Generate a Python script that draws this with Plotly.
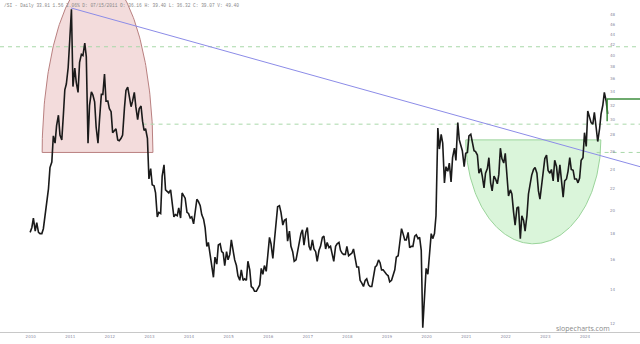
import numpy as np
import pandas as pd
import plotly.graph_objects as go

# ---- price data (semi-monthly closes: 1st and 15th) ----
p2010 = [18.1, 18.5, 19.3, 18.2, 18.9, 18.1, 18.0, 18.0, 18.4, 19.5, 20.7, 22.0, 24.2, 24.8, 27.9, 27.0, 29.2]  # from Apr 15
p2011 = [30.6, 28.0, 27.4, 30.5, 34.3, 35.2, 37.9, 42.7, 49.2, 34.8, 37.8, 35.4, 33.9, 38.8, 40.2, 40.0, 42.3, 39.8, 27.0, 32.0, 34.0, 33.5, 32.5, 29.0]
p2012 = [27.0, 30.0, 33.6, 33.6, 36.8, 32.6, 32.6, 31.5, 31.1, 28.3, 28.6, 28.8, 27.4, 27.3, 27.6, 28.0, 31.6, 34.2, 34.7, 33.5, 31.8, 32.6, 33.9, 31.8]
p2013 = [30.0, 31.5, 31.9, 29.8, 28.6, 28.8, 27.6, 23.0, 24.1, 22.4, 22.3, 21.6, 19.4, 19.8, 19.7, 23.3, 24.5, 21.9, 21.7, 21.6, 21.9, 20.6, 19.4, 19.6]
p2014 = [19.5, 20.2, 19.3, 21.6, 21.3, 21.1, 19.8, 19.7, 19.3, 19.4, 18.8, 19.7, 21.0, 20.8, 20.4, 19.6, 19.2, 18.5, 17.0, 17.3, 16.2, 15.6, 14.8, 16.2]
p2015 = [15.7, 17.1, 17.2, 16.6, 16.5, 15.6, 16.6, 16.0, 16.4, 17.5, 16.6, 16.0, 15.6, 14.9, 14.6, 15.3, 14.6, 14.7, 14.6, 15.9, 15.3, 14.2, 14.1, 13.9]
p2016 = [13.9, 14.1, 14.3, 15.4, 15.0, 15.6, 15.2, 16.3, 17.7, 17.2, 16.1, 17.4, 19.0, 20.3, 20.4, 19.8, 18.7, 19.1, 19.2, 17.4, 18.2, 17.0, 16.6, 15.9]
p2017 = [16.0, 16.7, 17.5, 18.0, 18.3, 17.1, 18.1, 18.5, 17.0, 16.7, 17.5, 16.8, 16.6, 15.9, 16.7, 17.0, 17.7, 17.8, 16.8, 17.3, 16.9, 17.0, 16.4, 15.9]
p2018 = [17.0, 17.2, 17.3, 16.7, 16.5, 16.4, 16.4, 17.0, 16.3, 16.4, 16.5, 16.8, 16.0, 15.5, 15.5, 14.6, 14.4, 14.2, 14.6, 14.7, 14.3, 14.2, 14.2, 14.7]
p2019 = [15.5, 15.6, 16.0, 15.8, 15.3, 15.3, 15.1, 15.0, 14.9, 14.5, 14.6, 15.0, 15.3, 16.2, 16.3, 17.2, 18.4, 18.0, 17.5, 17.5, 18.1, 16.9, 17.0, 17.0]
p2020 = [17.8, 17.9, 17.6, 17.7, 16.7, 11.8, 14.2, 15.4, 15.0, 16.6, 18.0, 17.6, 18.0, 19.5, 28.9, 26.3, 28.1, 27.0, 22.6, 24.3, 23.8, 24.7, 22.7, 25.3]
p2021 = [26.4, 25.0, 29.6, 27.4, 26.6, 26.1, 24.3, 25.8, 25.9, 27.9, 28.1, 27.3, 26.1, 26.0, 25.6, 23.6, 24.1, 23.3, 22.1, 23.6, 24.1, 25.3, 22.6, 21.8]
p2022 = [23.3, 23.0, 22.5, 23.5, 26.4, 25.2, 24.7, 25.8, 22.8, 21.3, 21.9, 21.5, 19.8, 18.7, 20.2, 20.3, 17.6, 19.5, 19.1, 18.2, 19.5, 21.5, 22.5, 23.4]
p2023 = [24.0, 24.2, 23.6, 21.8, 21.0, 22.3, 24.1, 25.2, 25.6, 23.9, 23.6, 24.0, 22.8, 25.0, 24.3, 22.7, 24.5, 23.0, 21.2, 22.8, 23.0, 23.8, 25.3, 24.0]
p2024 = [23.9, 23.0, 23.0, 22.6, 23.1, 25.0, 25.3, 28.3, 26.6, 31.2, 30.4, 29.6, 29.4, 31.0, 28.9, 27.2, 28.8, 30.8, 32.0, 33.9, 32.6, 30.8]

year_series = [(2010, p2010), (2011, p2011), (2012, p2012), (2013, p2013), (2014, p2014),
               (2015, p2015), (2016, p2016), (2017, p2017), (2018, p2018), (2019, p2019),
               (2020, p2020), (2021, p2021), (2022, p2022), (2023, p2023), (2024, p2024)]

y_ticks = [12, 14, 16, 18, 20, 22, 24, 26, 28, 30, 32, 34, 36, 38, 40, 42, 44, 46, 48]
x_tick_years = list(range(2010, 2025))

# annotations drawn on the chart (levels / dates)
red_arch = dict(left="2010-08-04", right="2013-05-22", base=25.9, apex=57.2)
green_bowl = dict(left="2021-04-16", right="2024-09-13", base=27.4, apex=17.2)
trend = dict(x=["2011-04-28", "2025-09-09"], y=[49.5, 24.3])
dashed_levels = [("2009-07-11", 41.6), ("2013-02-15", 29.4), ("2024-08-05", 25.9)]
last_step = dict(x=["2024-11-10", "2024-11-10", "2025-09-09"], y=[29.8, 32.9, 32.9])

X_START, X_END = "2009-07-11", "2025-09-09"

# ---- build series dates ----
dates, prices = [], []
for year, vals in year_series:
    m, d = (4, 15) if year == 2010 else (1, 1)
    for v in vals:
        dates.append(f"{year}-{m:02d}-{d:02d}")
        prices.append(v)
        if d == 1:
            d = 15
        else:
            d = 1
            m += 1


def arc(left, right, base, apex, n=160):
    l, r = pd.Timestamp(left), pd.Timestamp(right)
    c, h = l + (r - l) / 2, (r - l) / 2
    t = np.linspace(0, np.pi, n)
    xs = [(c + h * float(np.cos(tt))).isoformat() for tt in t]
    lb, la = np.log10(base), np.log10(apex)
    ys = list(10 ** (lb + (la - lb) * np.sin(t)))
    xs.append(xs[0]); ys.append(ys[0])
    return xs, ys


fig = go.Figure()

xs, ys = arc(**red_arch)
fig.add_trace(go.Scatter(x=xs, y=ys, mode="lines", fill="toself",
                         fillcolor="rgba(215,140,140,0.30)",
                         line=dict(color="#b98080", width=1), hoverinfo="skip"))
xs, ys = arc(**green_bowl)
fig.add_trace(go.Scatter(x=xs, y=ys, mode="lines", fill="toself",
                         fillcolor="rgba(150,225,150,0.35)",
                         line=dict(color="#9ad49a", width=1), hoverinfo="skip"))

for x0, lvl in dashed_levels:
    fig.add_trace(go.Scatter(x=[x0, X_END], y=[lvl, lvl], mode="lines",
                             line=dict(color="#a9d8a9", width=1, dash="4px,4px"),
                             hoverinfo="skip"))

fig.add_trace(go.Scatter(x=trend["x"], y=trend["y"], mode="lines",
                         line=dict(color="#8c8ce8", width=1), hoverinfo="skip"))

fig.add_trace(go.Scatter(x=dates, y=prices, mode="lines",
                         line=dict(color="#1a1a1a", width=1.6), hoverinfo="skip"))

fig.add_trace(go.Scatter(x=last_step["x"], y=last_step["y"], mode="lines",
                         line=dict(color="#3f8f3f", width=1.5), hoverinfo="skip"))

header = "/SI - Daily 33.81 1.56 2.06% D: 07/15/2011 O: 36.16 H: 39.40 L: 36.32 C: 39.07 V: 49.40"

fig.update_layout(
    width=640, height=344,
    margin=dict(l=0, r=0, t=0, b=12),
    paper_bgcolor="white", plot_bgcolor="white",
    showlegend=False,
    xaxis=dict(type="date", range=[X_START, X_END],
               tickvals=[f"{y}-04-20" for y in x_tick_years],
               ticktext=[str(y) for y in x_tick_years],
               tickfont=dict(size=4, color="#8a8aa0", family="DejaVu Sans"),
               showgrid=False, zeroline=False, showline=True,
               linecolor="#c8c8c8", linewidth=1, ticks="", automargin=False),
    yaxis=dict(type="log", side="right",
               range=[np.log10(11.58), np.log10(51.3)],
               tickvals=y_ticks, ticktext=[str(v) for v in y_ticks],
               ticklabelposition="inside", ticklabelstandoff=22,
               tickfont=dict(size=4, color="#8a8aa0", family="DejaVu Sans"),
               showgrid=False, zeroline=False, showline=False, ticks="",
               automargin=False),
    annotations=[
        dict(xref="paper", yref="paper", x=0.003, y=1, xanchor="left", yanchor="top",
             yshift=-1, showarrow=False, text=header,
             font=dict(size=4.5, color="#888888", family="Liberation Mono")),
        dict(xref="paper", yref="paper", x=0.911, y=0.012, xanchor="center", yanchor="middle",
             showarrow=False, text="slopecharts.com",
             font=dict(size=7, color="#8a8a8a", family="Open Sans")),
    ],
)

fig.write_html("out.html")
